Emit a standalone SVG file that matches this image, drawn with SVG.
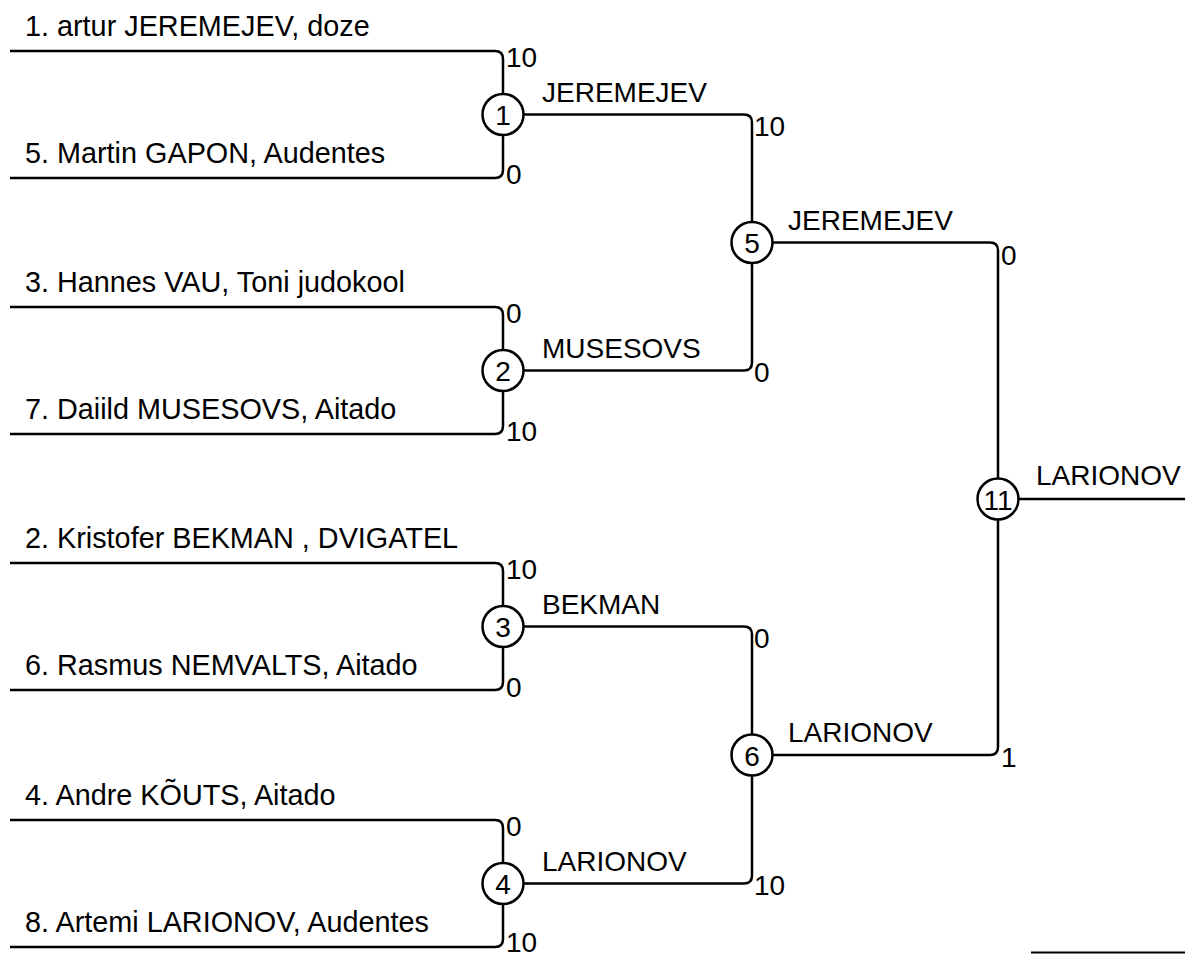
<svg xmlns="http://www.w3.org/2000/svg" width="1185" height="954" viewBox="0 0 1185 954">
<style>
.ln{fill:none;stroke:#000;stroke-width:2.5}
.nd{fill:#fff;stroke:#000;stroke-width:2.5}
text{font-family:"Liberation Sans",Arial,sans-serif;font-size:28px;fill:#000}
.p{font-size:28.8px}
.c{text-anchor:middle}
</style>
<rect width="1185" height="954" fill="#fff"/>
<g id="connectors">
<path class="ln" d="M10,51 H495 Q503,51 503,59 V94"/>
<path class="ln" d="M10,178 H495 Q503,178 503,170 V135"/>
<path class="ln" d="M10,307 H495 Q503,307 503,315 V350"/>
<path class="ln" d="M10,434 H495 Q503,434 503,426 V391"/>
<path class="ln" d="M10,563 H495 Q503,563 503,571 V606"/>
<path class="ln" d="M10,690 H495 Q503,690 503,682 V647"/>
<path class="ln" d="M10,820 H495 Q503,820 503,828 V863"/>
<path class="ln" d="M10,947 H495 Q503,947 503,939 V904"/>
<path class="ln" d="M523.5,114.5 H744 Q752,114.5 752,122.5 V222"/>
<path class="ln" d="M523.5,370.5 H744 Q752,370.5 752,362.5 V263"/>
<path class="ln" d="M523.5,626.5 H744 Q752,626.5 752,634.5 V734.5"/>
<path class="ln" d="M523.5,883.5 H744 Q752,883.5 752,875.5 V775.5"/>
<path class="ln" d="M772.5,242.5 H990 Q998,242.5 998,250.5 V478.5"/>
<path class="ln" d="M772.5,755 H990 Q998,755 998,747 V519.5"/>
<path class="ln" d="M1018.5,499 H1185"/>
<path class="ln" d="M1031,952.5 H1185" style="stroke-width:2"/>
</g>
<g id="players">
<text class="p" x="25" y="36">1. artur JEREMEJEV, doze</text>
<text class="p" x="25" y="163">5. Martin GAPON, Audentes</text>
<text class="p" x="25" y="292">3. Hannes VAU, Toni judokool</text>
<text class="p" x="25" y="419">7. Daiild MUSESOVS, Aitado</text>
<text class="p" x="25" y="548">2. Kristofer BEKMAN , DVIGATEL</text>
<text class="p" x="25" y="675">6. Rasmus NEMVALTS, Aitado</text>
<text class="p" x="25" y="805">4. Andre KÕUTS, Aitado</text>
<text class="p" x="25" y="932">8. Artemi LARIONOV, Audentes</text>
</g>
<g id="scores">
<text x="506" y="67">10</text>
<text x="506" y="184">0</text>
<text x="506" y="323">0</text>
<text x="506" y="441">10</text>
<text x="506" y="579">10</text>
<text x="506" y="697">0</text>
<text x="506" y="836">0</text>
<text x="506" y="952">10</text>
<text x="754" y="136">10</text>
<text x="754" y="382">0</text>
<text x="754" y="648">0</text>
<text x="754" y="895">10</text>
<text x="1001" y="265">0</text>
<text x="1001" y="767">1</text>
</g>
<g id="winners">
<text x="542" y="102">JEREMEJEV</text>
<text x="542" y="358">MUSESOVS</text>
<text x="542" y="614">BEKMAN</text>
<text x="542" y="871">LARIONOV</text>
<text x="788" y="230">JEREMEJEV</text>
<text x="788" y="742">LARIONOV</text>
<text x="1036" y="485">LARIONOV</text>
</g>
<g id="node1"><circle class="nd" cx="503" cy="114.5" r="20.5"/><text class="c" x="503" y="125">1</text></g>
<g id="node2"><circle class="nd" cx="503" cy="370.5" r="20.5"/><text class="c" x="503" y="381">2</text></g>
<g id="node3"><circle class="nd" cx="503" cy="626.5" r="20.5"/><text class="c" x="503" y="637">3</text></g>
<g id="node4"><circle class="nd" cx="503" cy="883.5" r="20.5"/><text class="c" x="503" y="894">4</text></g>
<g id="node5"><circle class="nd" cx="752" cy="242.5" r="20.5"/><text class="c" x="752" y="253">5</text></g>
<g id="node6"><circle class="nd" cx="752" cy="755" r="20.5"/><text class="c" x="752" y="765.5">6</text></g>
<g id="node11"><circle class="nd" cx="998" cy="499" r="20.5"/><text class="c" x="998" y="509.5">11</text></g>
</svg>
